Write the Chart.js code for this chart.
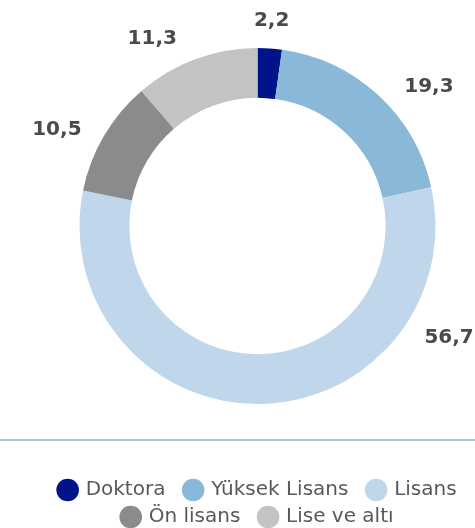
<!DOCTYPE html>
<html>
<head>
<meta charset="utf-8">
<script src="https://cdn.jsdelivr.net/npm/chart.js@4.4.0/dist/chart.umd.min.js"></script>
<style>
  html, body { margin: 0; padding: 0; background: #fff; }
  #frame { position: relative; width: 475px; height: 528px; overflow: hidden; }
  #box { position: absolute; left: 0; top: -21px; width: 475px; height: 560px; }
</style>
</head>
<body>
<div id="frame"><div id="box"><canvas id="eduChart"></canvas></div></div>
<script>
var categories = ["Doktora", "Yüksek Lisans", "Lisans", "Ön lisans", "Lise ve altı"];
var shares = [2.2, 19.3, 56.7, 10.5, 11.3];
var sliceColors = ["#001489", "#8ab8d8", "#c0d6ea", "#8a8b8d", "#c2c3c5"];
// where along each slice its number sits (0 = start, 1 = end)
var labelAt = [0.5, 0.62, 0.21, 0.37, 0.28];

// numbers outside the ring
var sliceLabels = {
    id: "sliceLabels",
    afterDatasetsDraw: function (chart) {
        var ctx = chart.ctx;
        var meta = chart.getDatasetMeta(0);
        ctx.save();
        ctx.font = "bold 20px 'DejaVu Sans'";
        ctx.fillStyle = "#4a4a4c";
        ctx.textAlign = "center";
        ctx.textBaseline = "middle";
        meta.data.forEach(function (arc, i) {
            var p = arc.getProps(["x", "y", "startAngle", "endAngle", "outerRadius"], true);
            var a = p.startAngle + (p.endAngle - p.startAngle) * labelAt[i];
            var txt = String(shares[i]).replace(".", ",");
            var hw = ctx.measureText(txt).width / 2;
            var r = p.outerRadius + 19 + Math.abs(Math.cos(a)) * hw + Math.abs(Math.sin(a)) * 7;
            ctx.fillText(txt, p.x + r * Math.cos(a), p.y + r * Math.sin(a));
        });
        ctx.restore();
    }
};

// thin rule above the legend, legend nudged to the right
var ruleLine = {
    id: "ruleLine",
    afterLayout: function (chart) {
        chart.legend.left += 7;
        chart.legend.right += 7;
    },
    beforeDraw: function (chart) {
        var ctx = chart.ctx;
        ctx.save();
        ctx.fillStyle = "#a3c6e3";
        ctx.fillRect(0, chart.legend.top - 34, chart.width, 2);
        ctx.restore();
    }
};

var ctx = document.getElementById("eduChart").getContext("2d");
var myChart = new Chart(ctx, {
    type: "doughnut",
    data: {
        labels: categories,
        datasets: [{
            data: shares,
            backgroundColor: sliceColors,
            borderWidth: 0,
            radius: 178,
        }],
    },
    options: {
        responsive: true,
        maintainAspectRatio: false,
        animation: false,
        cutout: "72%",
        layout: {
            padding: { left: 40, right: 0, top: 0, bottom: 2 },
        },
        plugins: {
            tooltip: { enabled: false },
            legend: {
                position: "bottom",
                labels: {
                    usePointStyle: true,
                    boxWidth: 16,
                    boxHeight: 16,
                    padding: 7,
                    color: "#58595b",
                    font: { family: "'DejaVu Sans'", size: 20 },
                    generateLabels: function (chart) {
                        var items = Chart.overrides.doughnut.plugins.legend.labels.generateLabels(chart);
                        items.forEach(function (it) { it.text = it.text + "  "; });
                        return items;
                    },
                },
            },
        },
    },
    plugins: [sliceLabels, ruleLine],
});
</script>
</body>
</html>
